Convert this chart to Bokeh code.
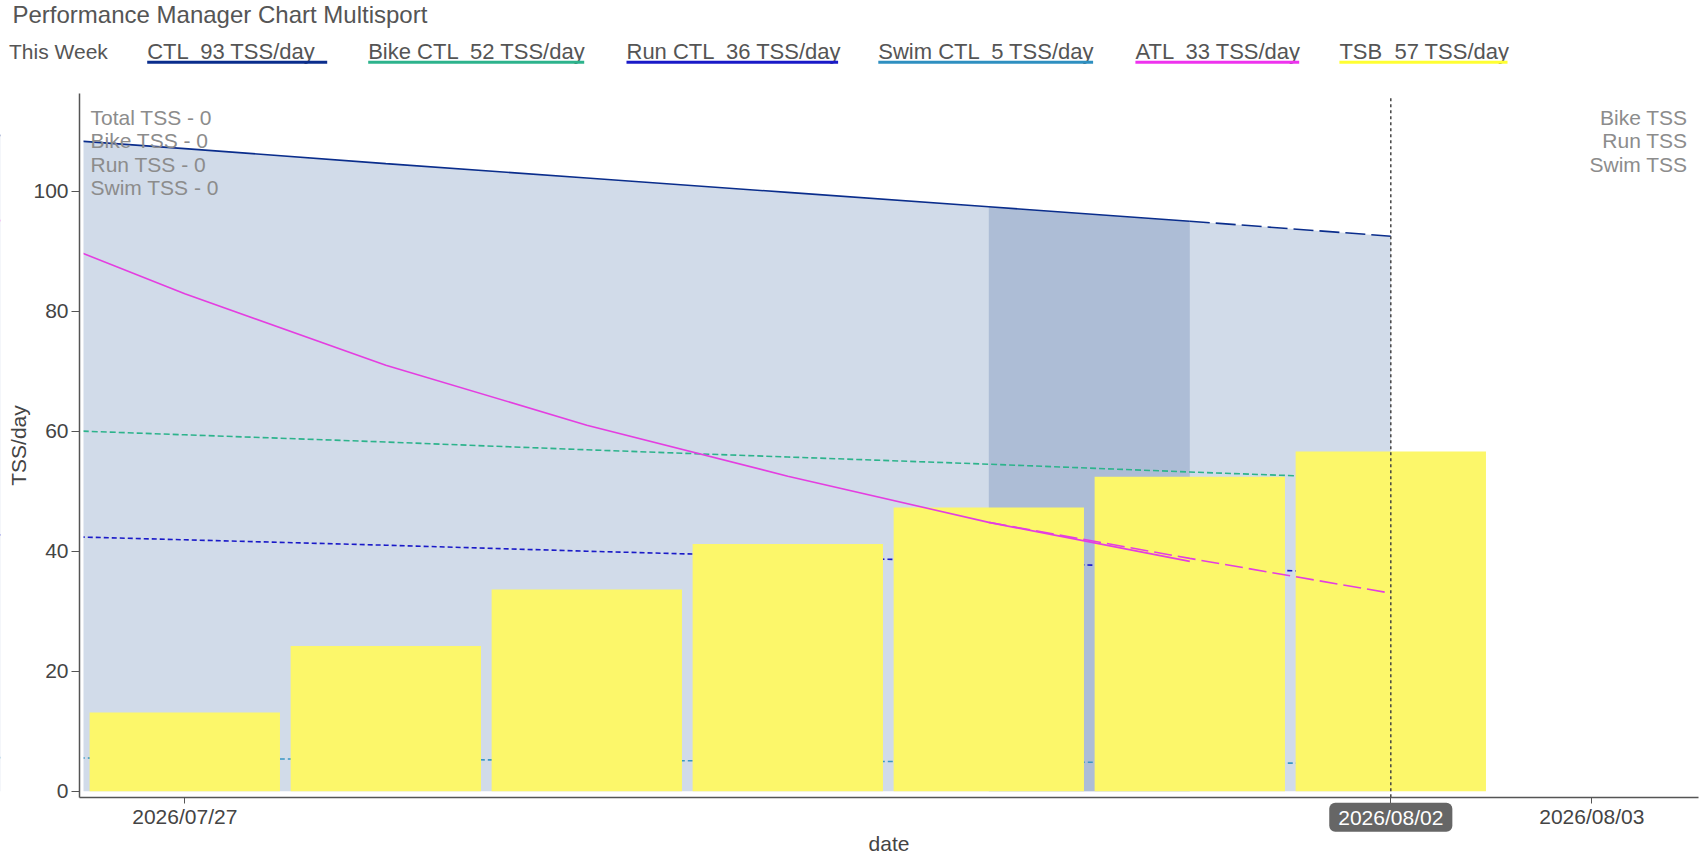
from datetime import datetime

from bokeh.plotting import figure
from bokeh.models import Range1d, FixedTicker, DatetimeTickFormatter, Label
from bokeh.core.properties import value
from bokeh.embed import file_html
from bokeh.resources import INLINE

# daily values, 2026-07-26 .. 2026-08-02
dates = ["2026-07-26", "2026-07-27", "2026-07-28", "2026-07-29",
         "2026-07-30", "2026-07-31", "2026-08-01", "2026-08-02"]
ctl = [109.5, 107.1, 104.6, 102.2, 99.8, 97.4, 95.0, 92.5]
bike_ctl = [60.6, 59.4, 58.2, 56.9, 55.7, 54.5, 53.2, 52.0]
run_ctl = [42.8, 41.9, 41.0, 40.0, 39.1, 38.2, 37.2, 36.3]
swim_ctl = [5.6, 5.45, 5.3, 5.15, 5.0, 4.9, 4.75, 4.6]
atl = [96.2, 82.9, 71.0, 61.0, 52.5, 44.8, 38.3]          # up to 08/01
atl_proj_dates = ["2026-07-31", "2026-08-01", "2026-08-02"]
atl_proj = [44.8, 38.8, 33.0]
tsb_dates = dates[1:]
tsb = [13.1, 24.2, 33.6, 41.2, 47.3, 52.4, 56.6]
week_dates = ["2026-07-31", "2026-08-01"]                  # darker band
today = "2026-08-02"
tick_dates = ["2026-07-27", "2026-08-02", "2026-08-03"]
y_ticks = [0, 20, 40, 60, 80, 100]

title_text = "Performance Manager Chart Multisport"
legend_labels = ["CTL \u00a093 TSS/day", "Bike CTL \u00a052 TSS/day", "Run CTL \u00a036 TSS/day",
                 "Swim CTL \u00a05 TSS/day", "ATL \u00a033 TSS/day", "TSB \u00a057 TSS/day"]
left_notes = ["Total TSS - 0", "Bike TSS - 0", "Run TSS - 0", "Swim TSS - 0"]
right_notes = ["Bike TSS", "Run TSS", "Swim TSS"]

# colours
C_CTL = "#0a2d8c"
C_BIKE = "#2db38c"
C_RUN = "#1a1ac8"
C_SWIM = "#3a96c4"
C_ATL = "#e43ee0"
C_TSB = "#fcf76a"
legend_colors = [C_CTL, C_BIKE, C_RUN, "#2e8fc0", "#ee33ee", "#ffff33"]

FONT = "Liberation Sans"
DAY = 86400000.0
W, H = 1700, 858


def ms(s):
    return (datetime.strptime(s, "%Y-%m-%d") - datetime(1970, 1, 1)).total_seconds() * 1000


def to_dt(lst):
    return [datetime.strptime(s, "%Y-%m-%d") for s in lst]


T0 = ms("2026-07-27")
PX_DAY = 201.0


# page pixel -> data (the frame covers the whole canvas)
def xpx(px):
    return T0 + (px - 184.3) / PX_DAY * DAY


def ypx(py):
    return (790.7 - py) / 6.0


AXIS_X = xpx(79)       # where the y axis sits
AREA_X = xpx(83)       # left edge of the plotting area
PLOT_TOP = ypx(93.3)

p = figure(width=W, height=H, x_axis_type="datetime",
           x_range=Range1d(xpx(0), xpx(W)), y_range=Range1d(ypx(H), ypx(0)),
           output_backend="svg", toolbar_location=None, min_border=0)
p.outline_line_color = None
p.grid.visible = False

d = to_dt(dates)
p.varea(x=d, y1=[0] * len(d), y2=ctl, fill_color="#d1dbe9")
wk = to_dt(week_dates)
p.varea(x=wk, y1=[0] * len(wk), y2=[ctl[dates.index(s)] for s in week_dates],
        fill_color="#adbdd6")

p.line(d, bike_ctl, line_color=C_BIKE, line_width=1.6, line_dash="6 3")
p.line(d, run_ctl, line_color=C_RUN, line_width=1.6, line_dash="5 3")
p.line(d, swim_ctl, line_color=C_SWIM, line_width=1.6, line_dash="5 3")

p.vbar(x=to_dt(tsb_dates), top=tsb, width=0.947 * DAY, fill_color=C_TSB, line_color=None)

p.line(d[:7], ctl[:7], line_color=C_CTL, line_width=1.6)
p.line(d[6:], ctl[6:], line_color=C_CTL, line_width=1.6, line_dash="20 6")
p.line(d[:7], atl, line_color=C_ATL, line_width=1.6)
p.line(to_dt(atl_proj_dates), atl_proj, line_color=C_ATL, line_width=1.6, line_dash="18 6")

# spike line at today
p.segment(x0=[ms(today)], x1=[ms(today)], y0=[-1.0], y1=[ypx(97)],
          line_color="#444444", line_width=1.5, line_dash="3 3")

# keep the plotting area clean left of its edge
p.quad(left=[xpx(-60)], right=[AREA_X], bottom=[ypx(H + 60)], top=[ypx(-60)],
       fill_color="white", line_color=None)

# axes, drawn at fixed places inside the canvas
p.xaxis.fixed_location = -1.0
p.xaxis.bounds = (AXIS_X, xpx(1698))
p.yaxis.fixed_location = AXIS_X
p.yaxis.bounds = (-1.0, PLOT_TOP)
p.xaxis.ticker = FixedTicker(ticks=[ms(s) for s in tick_dates])
p.xaxis.formatter = DatetimeTickFormatter(days="%Y/%m/%d", months="%Y/%m/%d",
                                          hours="%Y/%m/%d")
p.xaxis.major_label_overrides = {ms(today): " "}
p.yaxis.ticker = FixedTicker(ticks=y_ticks)
p.xaxis.axis_label = "date"
p.yaxis.axis_label = "TSS/day"
for ax in (p.xaxis[0], p.yaxis[0]):
    ax.axis_line_color = "#555555"
    ax.axis_line_width = 1.5
    ax.major_tick_line_color = "#555555"
    ax.major_tick_in = 0
    ax.minor_tick_line_color = None
    ax.major_label_text_font = FONT
    ax.major_label_text_font_size = "21px"
    ax.major_label_text_color = "#444444"
    ax.axis_label_text_font = FONT
    ax.axis_label_text_font_size = "21px"
    ax.axis_label_text_font_style = "normal"
    ax.axis_label_text_color = "#444444"
p.xaxis.major_tick_out = 6
p.xaxis.major_label_standoff = 2
p.xaxis.axis_label_standoff = 0
p.yaxis.major_tick_out = 8
p.yaxis.major_label_standoff = 3
p.yaxis.axis_label_standoff = 0

# header: title and legend row
p.text(x=[xpx(12)], y=[ypx(13.5)], text=[title_text], text_font=value(FONT),
       text_font_size="24px", text_color="#555555", text_baseline="middle")
p.text(x=[xpx(8.5)], y=[ypx(51.0)], text=["This Week"], text_font=value(FONT),
       text_font_size="21px", text_color="#555555", text_baseline="middle")
leg_x0 = [xpx(v) for v in (146.7, 367.7, 626.0, 877.8, 1134.9, 1338.9)]
leg_x1 = [xpx(v) for v in (326.7, 583.7, 837.6, 1092.6, 1298.7, 1507.0)]
p.text(x=leg_x0, y=[ypx(51.0)] * 6, text=legend_labels, text_font=value(FONT),
       text_font_size="22px", text_color="#555555", text_baseline="middle")
p.segment(x0=leg_x0, x1=leg_x1, y0=[ypx(61.7)] * 6, y1=[ypx(61.7)] * 6,
          line_color=legend_colors, line_width=3)

# highlighted date under the spike line
p.add_layout(Label(x=ms(today), y=ypx(816.7), text=today.replace("-", "/"),
                   text_align="center", text_baseline="middle", text_font=FONT,
                   text_font_size="21px", text_color="white",
                   background_fill_color="#666666", background_fill_alpha=1.0,
                   border_radius=6, padding=(9, 3)))

# notes in the plot area
for i, t in enumerate(left_notes):
    p.add_layout(Label(x=xpx(90), y=ypx(117.0 + 23.3 * i), text=t, text_align="left",
                       text_baseline="middle", text_font=FONT,
                       text_font_size="21px", text_color="#8c8c8c"))
for i, t in enumerate(right_notes):
    p.add_layout(Label(x=xpx(1687), y=ypx(117.0 + 23.3 * i), text=t, text_align="right",
                       text_baseline="middle", text_font=FONT,
                       text_font_size="21px", text_color="#8c8c8c"))

open("out.html", "w").write(file_html(p, INLINE))
